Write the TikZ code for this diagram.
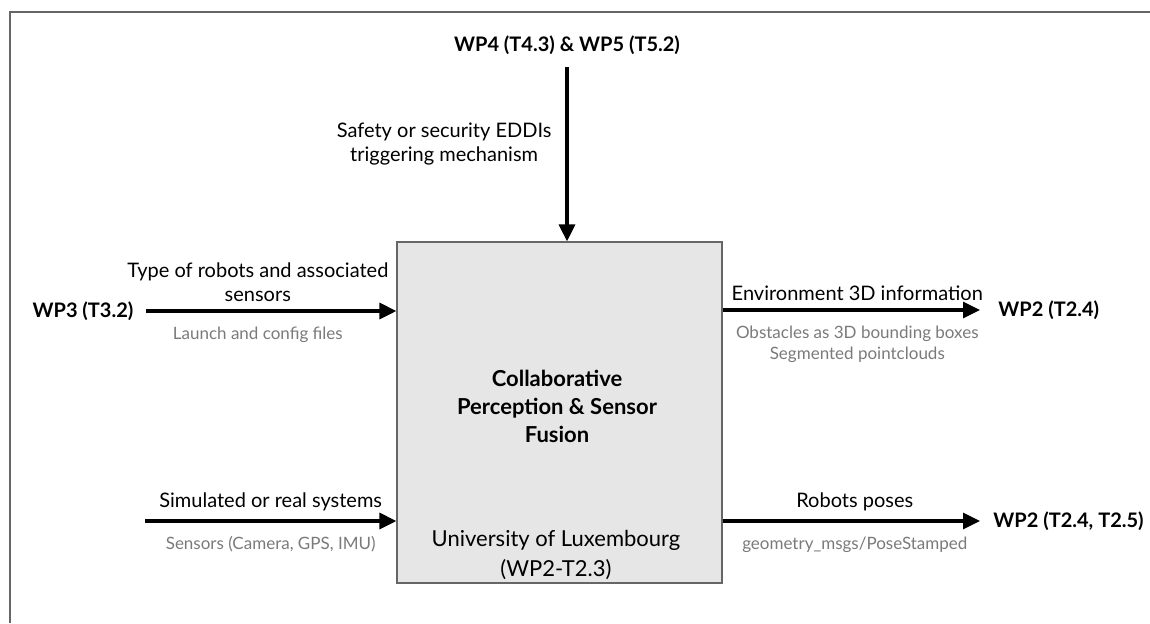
\documentclass[tikz,border=0pt]{standalone}
\usepackage{fontspec}
\setmainfont{Lato}
\usetikzlibrary{arrows.meta, positioning}
\definecolor{procFill}{HTML}{E6E6E6}
\definecolor{procLine}{HTML}{666666}
\definecolor{noteGrey}{HTML}{7A7A7A}
\definecolor{frameGrey}{HTML}{666666}

\begin{document}
\begin{tikzpicture}[x=0.5pt, y=-0.5pt,
        proc/.style={draw=procLine, line width=0.6pt, fill=procFill, minimum width=162.5pt, minimum height=170.5pt, inner sep=0pt},
        wp/.style={font=\bfseries\fontsize{10}{12}\selectfont, inner sep=3pt},
        lbl/.style={font=\fontsize{10}{12}\selectfont, align=center, inner sep=2pt},
        note/.style={font=\fontsize{8.5}{10.5}\selectfont, text=noteGrey, align=center, inner sep=2pt},
        flow/.style={-{Triangle[length=8.5pt, width=8pt]}, line width=1.6pt}]
        \useasboundingbox (0,0) rectangle (1150,623);
        \draw[frameGrey, line width=0.75pt] (1150,12) -- (10,12) -- (10,623);
        % central block
        \node[proc] (cpsf) at (559.5,412.5) {};
        \node[font=\bfseries\fontsize{11}{14}\selectfont, align=center] (title) at (557,406) {Collaborative\\Perception \& Sensor\\Fusion};
        \node[font=\fontsize{11}{15}\selectfont, align=center] (owner) at (556,555) {University of Luxembourg\\(WP2-T2.3)};
        % work packages
        \node[wp] (wp45) at (567,45) {WP4 (T4.3) \& WP5 (T5.2)};
        \node[wp] (wp3) at (83,311) {WP3 (T3.2)};
        \node[wp, anchor=west] (wp2a) at (992,310) {WP2 (T2.4)};
        \node[wp, anchor=west] (wp2b) at (987,521) {WP2 (T2.4, T2.5)};
        \coordinate (simsrc) at (145,521);
        % flows
        \draw[flow, shorten <=3pt] (wp45.south) -- node[lbl, pos=0.46, left=5pt]{Safety or security EDDIs\\triggering mechanism} (wp45 |- cpsf.north);
        \draw[flow, shorten <=3pt] (wp3.east) -- node[lbl, pos=0.46, above=2pt]{Type of robots and associated\\sensors} node[note, pos=0.46, below=5pt]{Launch and config files} (wp3 -| cpsf.west);
        \draw[flow] (simsrc) -- node[lbl, above=2pt]{Simulated or real systems} node[note, below=5pt]{Sensors (Camera, GPS, IMU)} (simsrc -| cpsf.west);
        \draw[flow, shorten >=6pt] (wp2a -| cpsf.east) -- node[lbl, above=2pt]{Environment 3D information} node[note, below=5pt]{Obstacles as 3D bounding boxes\\Segmented pointclouds} (wp2a.west);
        \draw[flow, shorten >=3.5pt] (wp2b -| cpsf.east) -- node[lbl, above=2pt]{Robots poses} node[note, below=5pt]{geometry\_msgs/PoseStamped} (wp2b.west);
\end{tikzpicture}
\end{document}
